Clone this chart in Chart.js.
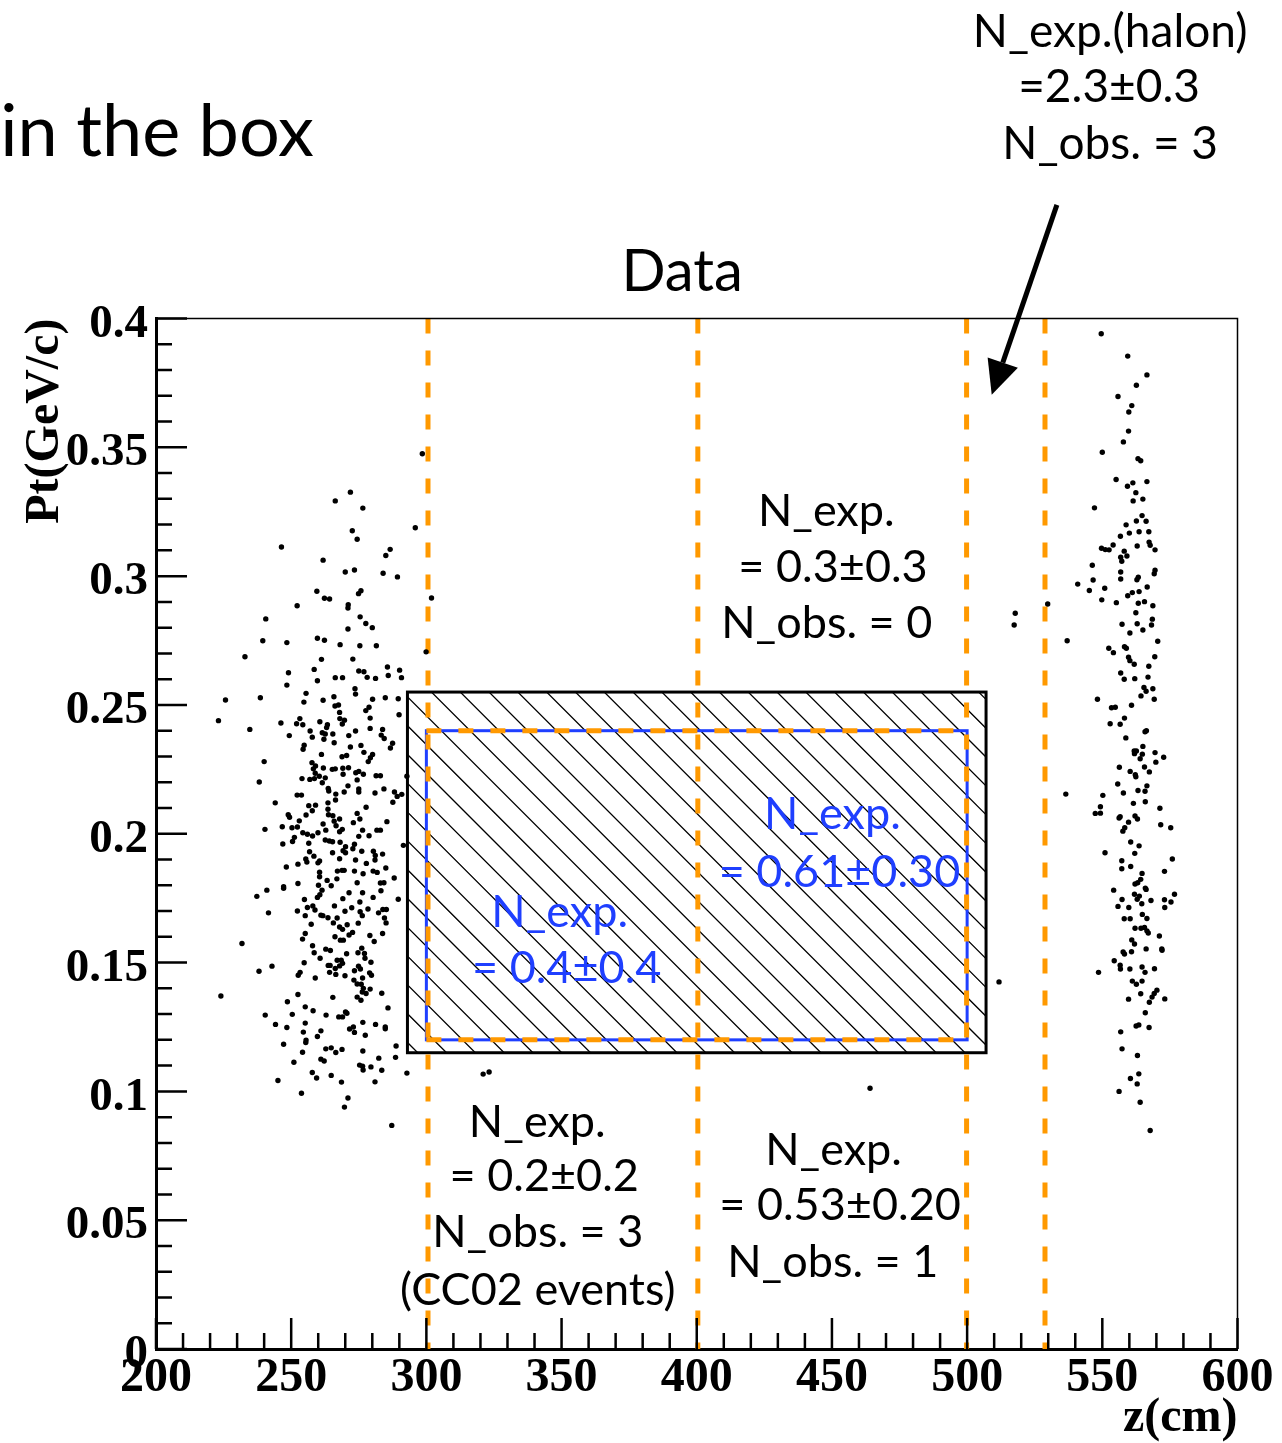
<!DOCTYPE html>
<html><head><meta charset="utf-8">
<script src="https://cdn.jsdelivr.net/npm/chart.js@4/dist/chart.umd.min.js"></script>
<style>html,body{margin:0;padding:0;background:#fff;}#wrap{width:1282px;height:1443px;position:relative;}</style>
</head><body><div id="wrap"><canvas id="c" width="1282" height="1443"></canvas></div>
<script>
// ---- data: [z (cm), Pt (GeV/c)] ----
const leftCluster = [
[271.9,.3326],[266.3,.3292],[276.5,.3264],[295.9,.3188],[272.6,.3176],[274.4,.3143],[246.4,.3113],[286.6,.3104],[285.0,.3080],[261.8,.3062],
[270.0,.3016],[273.4,.3024],[284.0,.3011],[289.3,.2997],[259.5,.2941],[275.8,.2943],[274.9,.2932],[262.3,.2914],[264.2,.2911],[301.9,.2915],
[252.2,.2885],[271.1,.2889],[271.0,.2876],[240.6,.2834],[275.5,.2842],[277.6,.2816],[280.0,.2800],[271.0,.2795],[239.5,.2749],[248.4,.2742],
[259.7,.2759],[262.3,.2751],[268.1,.2734],[275.4,.2730],[281.5,.2730],[232.9,.2687],[261.2,.2677],[272.8,.2678],[299.9,.2706],[285.6,.2647],
[290.1,.2635],[249.0,.2625],[258.5,.2638],[275.0,.2632],[276.9,.2629],[278.1,.2607],[281.2,.2603],[285.9,.2614],[290.8,.2606],[266.3,.2606],
[269.0,.2606],[259.7,.2594],[248.4,.2577],[273.6,.2563],[273.8,.2542],[255.5,.2545],[254.7,.2511],[225.7,.2519],[238.6,.2528],[261.8,.2518],
[265.8,.2532],[280.1,.2522],[284.8,.2528],[289.6,.2524],[267.5,.2500],[266.2,.2496],[278.8,.2491],[277.6,.2478],[267.9,.2471],[223.1,.2439],
[234.7,.2405],[246.2,.2430],[252.0,.2427],[253.2,.2447],[254.3,.2423],[260.6,.2435],[268.0,.2447],[269.7,.2441],[268.9,.2426],[279.2,.2449],
[289.9,.2462],[263.4,.2423],[263.1,.2412],[257.0,.2399],[261.5,.2392],[262.6,.2387],[265.4,.2387],[273.8,.2399],[279.2,.2409],[283.8,.2405],
[283.3,.2383],[284.4,.2370],[249.3,.2381],[257.8,.2375],[262.1,.2367],[271.3,.2381],[265.9,.2353],[254.8,.2344],[254.4,.2328],[275.8,.2343],
[271.9,.2337],[287.5,.2351],[286.7,.2333],[276.9,.2316],[261.2,.2308],[268.8,.2299],[270.5,.2304],[280.1,.2308],[279.3,.2295],[278.5,.2280],
[240.0,.2280],[257.7,.2276],[259.0,.2263],[258.2,.2252],[261.9,.2255],[265.2,.2250],[266.3,.2252],[269.1,.2254],[271.2,.2256],[258.9,.2235],
[260.4,.2223],[262.6,.2217],[269.2,.2231],[273.9,.2237],[275.0,.2242],[276.7,.2231],[281.4,.2225],[283.0,.2225],[254.0,.2214],[256.9,.2211],
[258.6,.2214],[261.5,.2198],[274.4,.2209],[238.2,.2201],[292.8,.2223],[263.7,.2176],[263.9,.2166],[271.0,.2186],[275.0,.2174],[275.0,.2162],
[269.6,.2162],[266.5,.2154],[252.2,.2150],[253.8,.2150],[281.0,.2158],[284.3,.2174],[288.2,.2162],[290.9,.2153],[289.2,.2145],
[244.1,.2120],[256.5,.2109],[259.0,.2111],[263.6,.2120],[266.4,.2131],[287.6,.2122],[277.7,.2103],[263.6,.2095],[257.8,.2089],[248.9,.2074],
[255.5,.2073],[263.8,.2074],[265.4,.2070],[274.4,.2079],[267.9,.2057],[275.4,.2057],[249.4,.2064],[253.0,.2050],[273.0,.2043],[265.9,.2049],
[261.8,.2038],[285.4,.2047],[246.7,.2027],[250.3,.2023],[252.3,.2026],[240.3,.2017],[266.6,.2031],[262.8,.2014],[268.9,.2017],[267.9,.2008],
[276.4,.2014],[281.7,.2014],[283.0,.2014],[259.9,.2004],[254.3,.2004],[256.0,.1998],[257.9,.1991],[275.0,.1990],[278.8,.1992],[251.2,.1986],
[250.5,.1970],[262.6,.1976],[264.1,.1972],[265.3,.1969],[268.1,.1967],[256.5,.1963],[246.9,.1960],[273.4,.1959],[270.1,.1950],[272.8,.1942],
[291.5,.1955],[269.2,.1934],[270.1,.1926],[276.1,.1932],[280.4,.1932],[281.1,.1916],[283.8,.1921],[265.3,.1926],[256.8,.1930],[258.4,.1913],
[267.9,.1903],[273.8,.1898],[281.0,.1898],[255.4,.1902],[255.8,.1890],[259.9,.1887],[260.5,.1894],[252.5,.1882],[277.8,.1885],[248.2,.1871],
[285.0,.1867],[267.1,.1855],[268.8,.1858],[269.6,.1858],[273.4,.1855],[280.3,.1855],[281.8,.1850],[260.5,.1851],[276.6,.1845],[260.5,.1833],
[266.9,.1825],[263.3,.1819],[288.1,.1828],[252.5,.1807],[264.8,.1798],[260.1,.1800],[274.4,.1810],[283.0,.1809],[284.3,.1810],[247.2,.1794],
[247.2,.1788],[241.0,.1781],[261.4,.1781],[283.2,.1779],[271.4,.1771],[276.4,.1771],[260.6,.1763],[259.7,.1753],[269.1,.1748],[280.3,.1753],
[237.3,.1757],[289.6,.1746],[254.9,.1745],[275.4,.1735],[266.0,.1720],[256.0,.1714],[258.0,.1720],[258.8,.1704],[272.4,.1713],[278.4,.1708],
[283.9,.1706],[285.2,.1706],[252.3,.1700],[241.6,.1693],[269.9,.1699],[275.5,.1697],[261.0,.1684],[261.7,.1682],[255.2,.1682],[276.3,.1682],
[263.6,.1674],[267.0,.1673],[282.3,.1693],[284.5,.1673],[285.1,.1654],[257.4,.1649],[265.6,.1654],[274.8,.1653],[270.7,.1647],[269.0,.1629],
[267.9,.1638],[255.2,.1613],[254.2,.1591],[272.7,.1617],[271.4,.1607],[266.2,.1600],[268.2,.1587],[269.3,.1587],[279.1,.1605],[283.8,.1613],
[280.7,.1582],[231.8,.1574],[257.9,.1565],[258.5,.1538],[262.8,.1552],[264.5,.1547],[270.5,.1534],[274.7,.1538],[276.1,.1556],[277.1,.1535],
[277.3,.1517],[260.7,.1517],[267.0,.1509],[268.5,.1509],[269.0,.1497],[254.8,.1499],[267.9,.1487],[266.3,.1477],[263.7,.1489],[264.4,.1489],
[274.9,.1486],[279.5,.1501],[275.6,.1475],[273.4,.1468],[238.1,.1466],[242.9,.1486],[253.3,.1462],[252.6,.1451],[264.2,.1462],[266.5,.1454],
[269.9,.1449],[279.0,.1460],[279.7,.1451],[276.4,.1440],[258.9,.1440],[273.2,.1432],[274.4,.1417],[275.9,.1416],[276.7,.1400],[279.2,.1397],
[276.3,.1386],[277.7,.1380],[283.5,.1381],[224.0,.1370],[252.5,.1376],[265.4,.1365],[274.4,.1366],[275.8,.1354],[248.6,.1348],[255.2,.1328],
[258.1,.1313],[285.8,.1324],[270.6,.1303],[270.1,.1308],[240.4,.1296],[250.4,.1299],[262.9,.1296],[267.6,.1289],[269.0,.1289],[244.2,.1260],
[248.4,.1248],[255.2,.1265],[254.5,.1230],[261.0,.1235],[259.7,.1213],[271.6,.1242],[273.0,.1250],[273.4,.1229],[276.5,.1268],[277.4,.1218],
[281.2,.1260],[284.8,.1250],[284.8,.1243],[255.5,.1199],[255.4,.1190],[247.2,.1183],[288.8,.1176],[262.8,.1165],[264.8,.1169],[266.5,.1151],
[268.8,.1163],[254.2,.1152],[276.5,.1157],[288.6,.1132],[282.4,.1129],[261.0,.1125],[262.2,.1118],[251.0,.1113],[275.3,.1102],[276.4,.1098],
[276.6,.1083],[279.5,.1095],[283.5,.1082],[292.8,.1071],[257.8,.1073],[259.4,.1052],[264.8,.1062],[245.1,.1042],[268.6,.1036],[281.0,.1037],
[253.8,.0993],[271.0,.0974],[269.7,.0939],[287.2,.0868],[298.5,.3475]
];
const rightCluster = [
[549.6,.3941],[559.4,.3854],[566.5,.3781],[562.6,.3741],[555.8,.3697],[560.9,.3662],[559.8,.3637],[559.7,.3563],[557.8,.3521],[550.0,.3481],
[563.2,.3456],[564.2,.3448],[555.1,.3375],[559.3,.3349],[561.3,.3362],[566.5,.3367],[562.4,.3324],[561.4,.3292],[565.0,.3299],[547.1,.3265],
[564.7,.3235],[562.6,.3214],[566.2,.3213],[558.8,.3199],[563.6,.3172],[567.2,.3172],[560.0,.3167],[556.7,.3155],[567.3,.3132],[567.7,.3120],
[569.5,.3102],[562.9,.3117],[554.0,.3121],[549.7,.3108],[551.1,.3103],[552.5,.3102],[558.1,.3097],[559.1,.3078],[556.8,.3073],[557.2,.3058],
[546.3,.3042],[569.5,.3023],[569.2,.3009],[556.8,.3016],[556.8,.2989],[546.6,.2985],[540.9,.2969],[563.3,.2996],[562.8,.2986],[550.9,.2953],
[545.2,.2944],[566.6,.2958],[563.6,.2940],[561.1,.2936],[559.4,.2924],[549.8,.2908],[555.2,.2897],[563.3,.2895],[565.6,.2901],[568.7,.2885],
[529.8,.2892],[562.4,.2858],[568.5,.2833],[568.2,.2810],[562.9,.2815],[557.3,.2813],[565.0,.2791],[560.2,.2779],[537.0,.2749],[570.5,.2747],
[552.4,.2720],[554.1,.2703],[558.2,.2726],[558.9,.2720],[559.7,.2685],[560.2,.2672],[561.8,.2658],[569.4,.2687],[567.2,.2650],[556.8,.2624],
[558.1,.2600],[562.0,.2602],[566.9,.2608],[565.4,.2568],[568.7,.2563],[564.3,.2535],[566.2,.2553],[548.2,.2522],[569.2,.2522],
[553.4,.2489],[554.8,.2491],[560.8,.2499],[558.2,.2449],[552.9,.2427],[556.6,.2425],[565.8,.2396],[566.3,.2400],[558.7,.2372],[565.0,.2339],
[561.8,.2321],[562.6,.2321],[561.9,.2311],[564.8,.2309],[564.0,.2291],[569.5,.2315],[572.7,.2297],[569.8,.2278],[556.3,.2258],[560.3,.2242],
[562.2,.2229],[562.4,.2221],[565.6,.2259],[567.4,.2240],[555.7,.2193],[566.5,.2186],[563.2,.2168],[565.8,.2165],[557.8,.2158],[536.5,.2154],
[550.2,.2149],[565.9,.2124],[561.5,.2118],[549.3,.2105],[571.3,.2099],[547.4,.2079],[549.3,.2080],[556.6,.2066],[556.2,.2061],[562.1,.2069],
[563.0,.2057],[559.7,.2045],[571.6,.2035],[575.3,.2023],[558.3,.2023],[557.6,.2010],[560.5,.1968],[563.6,.1953],[562.0,.1924],[551.0,.1926],
[575.9,.1902],[557.2,.1895],[557.2,.1864],[560.5,.1873],[573.0,.1854],[564.7,.1846],[564.2,.1823],[563.1,.1810],[562.1,.1805],[565.9,.1789],
[566.2,.1784],[554.2,.1781],[561.9,.1765],[563.7,.1758],[562.9,.1746],[557.3,.1745],[568.0,.1741],[573.0,.1744],[576.7,.1765],[575.4,.1735],
[564.6,.1728],[555.8,.1718],[559.8,.1714],[573.1,.1714],[564.8,.1687],[566.5,.1671],[558.1,.1670],[560.3,.1670],[562.1,.1633],[564.3,.1633],
[565.6,.1636],[566.5,.1623],[567.0,.1615],[571.1,.1603],[560.9,.1588],[561.9,.1572],[566.2,.1553],[572.0,.1553],[572.1,.1548],[557.7,.1541],
[558.2,.1533],[560.8,.1542],[554.4,.1507],[556.6,.1490],[556.7,.1475],[560.2,.1475],[564.7,.1483],[565.8,.1462],[569.3,.1476],[548.6,.1462],
[561.1,.1428],[562.6,.1416],[564.7,.1428],[570.2,.1393],[569.2,.1380],[568.4,.1366],[564.2,.1379],[567.4,.1346],[559.7,.1358],[573.1,.1359],
[565.9,.1305],[562.5,.1254],[563.5,.1258],[567.3,.1248],[556.8,.1231],[557.3,.1165],[563.0,.1139],[563.5,.1068],[560.4,.1050],[562.9,.1029],
[556.2,.1000],[564.0,.0958],[567.7,.0848]
];
const scatteredEvents = [[321.0,.1067],[323.2,.1075],[464.1,.1012],[511.8,.1425],[517.8,.2856],[517.4,.2810]];

// region boundaries
const regionEdgesZ = [300.6, 400.4, 499.8, 528.8];
const signalBoxZ = [300, 500];
const signalBoxPt = [0.12, 0.24];
const hatchBoxZ = [293, 507];
const hatchBoxPt = [0.115, 0.255];
const xTickLabels = ['200','250','300','350','400','450','500','550','600'];
const yTickLabels = ['0','0.05','0.1','0.15','0.2','0.25','0.3','0.35','0.4'];

// annotation text (anchored in data coordinates)
const ORANGE = '#ff9900', BLUE = '#1f3fff', BLACK = '#000';
const notes = [
 {t:'Data', z:394.6, pt:0.4179, size:58},
 {t:'in the box', z:142.4, pt:0.4721, size:72, align:'left'},
 {t:'N_exp.(halon)', z:552.9, pt:0.5111, size:46},
 {t:'=2.3±0.3', z:552.5, pt:0.4898, size:46},
 {t:'N_obs. = 3', z:552.9, pt:0.4678, size:46},
 {t:'N_exp.', z:447.9, pt:0.3249, size:45},
 {t:'= 0.3±0.3', z:450.4, pt:0.3032, size:45},
 {t:'N_obs. = 0', z:448.1, pt:0.2815, size:45},
 {t:'N_exp.', z:450.2, pt:0.2073, size:45, color:BLUE},
 {t:'= 0.61±0.30', z:452.8, pt:0.1849, size:45, color:BLUE},
 {t:'N_exp.', z:349.3, pt:0.1694, size:45, color:BLUE},
 {t:'= 0.4±0.4', z:351.9, pt:0.1478, size:45, color:BLUE},
 {t:'N_exp.', z:341.0, pt:0.0880, size:45},
 {t:'= 0.2±0.2', z:343.6, pt:0.0671, size:45},
 {t:'N_obs. = 3', z:341.2, pt:0.0453, size:45},
 {t:'(CC02 events)', z:341.2, pt:0.0228, size:45},
 {t:'N_exp.', z:450.6, pt:0.0772, size:45},
 {t:'= 0.53±0.20', z:453.0, pt:0.0558, size:45},
 {t:'N_obs. = 1', z:450.3, pt:0.0337, size:45}
];
const arrowFrom = [533.2, 0.4441];
const arrowTo = [509.1, 0.3704];

const toXY = arr => arr.map(p => ({x:p[0], y:p[1]}));
const TEXT_FONT = 'Lato, "Open Sans", sans-serif';
const AXIS_FONT = 'Liberation Serif';

const datasets = [
  {type:'scatter', data: toXY(leftCluster.concat(rightCluster, scatteredEvents)),
   backgroundColor:'#000', borderWidth:0, pointRadius:2.7, pointHoverRadius:2.7}
];
regionEdgesZ.forEach(z => datasets.push({type:'line', data:[{x:z,y:0.4},{x:z,y:0}],
  borderColor:ORANGE, borderWidth:5, borderDash:[15,17], pointRadius:0, fill:false, tension:0}));
signalBoxPt.forEach(v => datasets.push({type:'line', data:[{x:signalBoxZ[0],y:v},{x:signalBoxZ[1],y:v}],
  borderColor:ORANGE, borderWidth:5, borderDash:[15,17], pointRadius:0, fill:false, tension:0}));

const boxesPlugin = {
  id:'boxes',
  beforeDatasetsDraw(chart){
    const {ctx, scales:{x,y}} = chart;
    const x0 = x.getPixelForValue(hatchBoxZ[0]), x1 = x.getPixelForValue(hatchBoxZ[1]);
    const y0 = y.getPixelForValue(hatchBoxPt[1]), y1 = y.getPixelForValue(hatchBoxPt[0]);
    ctx.save();
    ctx.beginPath(); ctx.rect(x0, y0, x1-x0, y1-y0); ctx.clip();
    ctx.strokeStyle = '#000'; ctx.lineWidth = 1.3;
    const h = y1 - y0, step = 28.8;
    ctx.beginPath();
    for (let xs = x0 + 24 - Math.ceil((h+24)/step)*step; xs < x1; xs += step){
      ctx.moveTo(xs, y0); ctx.lineTo(xs + h, y1);
    }
    ctx.stroke();
    ctx.restore();
    ctx.save();
    ctx.strokeStyle = '#000'; ctx.lineWidth = 3;
    ctx.strokeRect(x0, y0, x1-x0, y1-y0);
    const bx0 = x.getPixelForValue(signalBoxZ[0]), bx1 = x.getPixelForValue(signalBoxZ[1]);
    const by0 = y.getPixelForValue(signalBoxPt[1]), by1 = y.getPixelForValue(signalBoxPt[0]);
    ctx.strokeStyle = BLUE; ctx.lineWidth = 3;
    ctx.strokeRect(bx0, by0, bx1-bx0, by1-by0);
    ctx.restore();
  }
};

const frameTicks = {
  id:'frameTicks',
  afterDatasetsDraw(chart){
    const {ctx, chartArea:a, scales:{x,y}} = chart;
    ctx.save();
    ctx.strokeStyle = '#000';
    ctx.lineWidth = 1.5;
    ctx.beginPath(); ctx.moveTo(a.left, a.top); ctx.lineTo(a.right, a.top); ctx.lineTo(a.right, a.bottom); ctx.stroke();
    ctx.lineWidth = 2.5;
    ctx.beginPath();
    for (let i = 0; i <= 40; i++){
      const X = x.getPixelForValue(x.min + i*(x.max-x.min)/40); const L = i%5===0 ? 31 : 16;
      ctx.moveTo(X, a.bottom); ctx.lineTo(X, a.bottom - L);
    }
    for (let i = 0; i <= 40; i++){
      const Y = y.getPixelForValue(y.min + i*(y.max-y.min)/40); const L = i%5===0 ? 31 : 16;
      ctx.moveTo(a.left, Y); ctx.lineTo(a.left + L, Y);
    }
    ctx.stroke();
    ctx.restore();
  }
};

const annotate = {
  id:'annotate',
  afterDraw(chart){
    const {ctx, scales:{x,y}} = chart;
    ctx.save();
    notes.forEach(n => {
      ctx.font = `${n.size}px ${TEXT_FONT}`;
      ctx.fillStyle = n.color || BLACK;
      ctx.textAlign = n.align || 'center';
      ctx.textBaseline = 'middle';
      ctx.fillText(n.t, x.getPixelForValue(n.z), y.getPixelForValue(n.pt));
    });
    const ax0 = x.getPixelForValue(arrowFrom[0]), ay0 = y.getPixelForValue(arrowFrom[1]);
    const ax1 = x.getPixelForValue(arrowTo[0]), ay1 = y.getPixelForValue(arrowTo[1]);
    const ang = Math.atan2(ay1-ay0, ax1-ax0), hl = 34, hw = 16;
    const bx = ax1 - hl*Math.cos(ang), by = ay1 - hl*Math.sin(ang);
    ctx.strokeStyle = '#000'; ctx.lineWidth = 5;
    ctx.beginPath(); ctx.moveTo(ax0, ay0); ctx.lineTo(bx, by); ctx.stroke();
    ctx.fillStyle = '#000';
    ctx.beginPath();
    ctx.moveTo(ax1, ay1);
    ctx.lineTo(bx + hw*Math.sin(ang), by - hw*Math.cos(ang));
    ctx.lineTo(bx - hw*Math.sin(ang), by + hw*Math.cos(ang));
    ctx.closePath(); ctx.fill();
    ctx.restore();
  }
};

new Chart(document.getElementById('c'), {
  type:'scatter',
  data:{datasets},
  options:{
    responsive:false, animation:false, devicePixelRatio:1,
    layout:{padding:{top:318.5, right:44.5, left:0, bottom:0}},
    plugins:{legend:{display:false}, tooltip:{enabled:false}},
    scales:{
      x:{type:'linear', position:'bottom', min:200, max:600,
         grid:{display:false, drawTicks:false},
         border:{display:true, color:'#000', width:3},
         ticks:{stepSize:50, autoSkip:false, maxRotation:0, padding:1, color:'#000',
                font:{family:AXIS_FONT, weight:'bold', size:48},
                callback:(v)=> xTickLabels[Math.round((v-200)/50)]},
         title:{display:true, text:'z(cm)', align:'end', color:'#000',
                font:{family:AXIS_FONT, weight:'bold', size:48, lineHeight:1}, padding:{top:0,bottom:0}},
         afterFit:(s)=>{ s.height = 94; }},
      y:{type:'linear', position:'left', min:0, max:0.4,
         grid:{display:false, drawTicks:false},
         border:{display:true, color:'#000', width:3},
         ticks:{stepSize:0.05, autoSkip:false, padding:8, labelOffset:6, color:'#000',
                font:{family:AXIS_FONT, weight:'bold', size:47},
                callback:(v)=> yTickLabels[Math.round(v/0.05)]},
         title:{display:true, text:'Pt(GeV/c)', align:'end', color:'#000',
                font:{family:AXIS_FONT, weight:'bold', size:48, lineHeight:1}, padding:{top:22,bottom:0}},
         afterFit:(s)=>{ s.width = 156; }}
    }
  },
  plugins:[boxesPlugin, frameTicks, annotate]
});
</script></body></html>
